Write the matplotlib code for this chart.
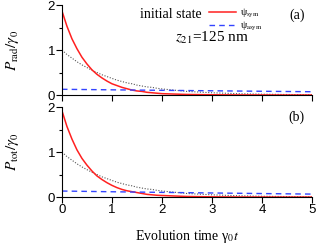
import matplotlib
matplotlib.use("Agg")
import matplotlib.pyplot as plt

# evolution time (gamma_0 t)
t = [0, 0.1, 0.2, 0.3, 0.4, 0.5, 0.6, 0.7, 0.8, 0.9, 1.0, 1.1, 1.2, 1.3, 1.4,
     1.5, 1.6, 1.7, 1.8, 1.9, 2.0, 2.5, 3.0, 3.5, 4.0, 4.5, 5.0]

# (a) radiated power
rad_sym = [1.87, 1.53, 1.25, 1.03, 0.84, 0.69, 0.56, 0.46, 0.38, 0.31, 0.25,
           0.21, 0.17, 0.14, 0.11, 0.09, 0.08, 0.06, 0.05, 0.04, 0.03,
           0.012, 0.005, 0.002, 0.001, 0.0, 0.0]
# (b) total power
tot_sym = [1.92, 1.57, 1.29, 1.05, 0.86, 0.71, 0.58, 0.47, 0.39, 0.32, 0.26,
           0.21, 0.17, 0.14, 0.12, 0.10, 0.08, 0.06, 0.05, 0.04, 0.035,
           0.013, 0.005, 0.002, 0.001, 0.0, 0.0]
# single emitter reference (dotted)
single = [1.0, 0.90, 0.82, 0.74, 0.67, 0.61, 0.55, 0.50, 0.45, 0.41, 0.37,
          0.33, 0.30, 0.27, 0.25, 0.22, 0.20, 0.18, 0.17, 0.15, 0.135,
          0.08, 0.05, 0.03, 0.018, 0.011, 0.007]

t_asym = [0, 1, 2, 3, 4, 5]
rad_asym = [0.127, 0.115, 0.104, 0.094, 0.083, 0.073]
tot_asym = [0.134, 0.118, 0.104, 0.091, 0.078, 0.066]

plt.rcParams["font.family"] = "Liberation Serif"
plt.rcParams["mathtext.fontset"] = "stix"

fig = plt.figure(figsize=(3.16, 2.52), dpi=100)
ax1 = fig.add_axes([0.196, 0.623, 0.791, 0.357])
ax2 = fig.add_axes([0.196, 0.218, 0.791, 0.357])

panels = [(ax1, rad_sym, rad_asym, r"$P_{\rm rad}/\gamma_0$", "(a)"),
          (ax2, tot_sym, tot_asym, r"$P_{\rm tot}/\gamma_0$", "(b)")]

for ax, sym, asym, ylab, tag in panels:
    ax.plot(t, single, color="#555555", ls=(0, (1, 1.5)), lw=0.8)
    ax.plot(t, sym, color="#ff2020", lw=1.1, label=r"ψ$_{\rm sym}$")
    ax.plot(t_asym, asym, color="#3344ff", ls=(0, (4, 3)), lw=1.0,
            label=r"ψ$_{\rm asym}$")
    ax.set_xlim(0, 5)
    ax.set_ylim(0, 2)
    ax.spines["top"].set_visible(False)
    ax.spines["right"].set_visible(False)
    ax.set_xticks([0, 1, 2, 3, 4, 5])
    ax.set_yticks([0, 1, 2])
    ax.set_yticks([0.5, 1.5], minor=True)
    ax.tick_params(direction="out", length=4, width=0.8, pad=1)
    ax.tick_params(which="minor", direction="out", length=2.5, width=0.8)
    for lab in ax.get_xticklabels() + ax.get_yticklabels():
        lab.set_fontfamily("Liberation Sans")
        lab.set_fontsize(9.5)
    ax.set_ylabel(ylab, fontsize=11)
    ax.yaxis.set_label_coords(-0.165, 0.5)
    ax.text(0.94, 0.89, tag, transform=ax.transAxes, ha="center",
            va="center", fontsize=10)

ax1.tick_params(labelbottom=False)

leg = ax1.legend(loc="upper left", bbox_to_anchor=(0.59, 0.98),
                 frameon=False, fontsize=7, handlelength=2.7,
                 handletextpad=0.45, labelspacing=0.0, borderpad=0,
                 borderaxespad=0)
ax1.text(0.312, 0.9, "initial state", transform=ax1.transAxes,
         ha="left", va="center", fontsize=10)
ax1.text(0.6, 0.63, r"$z_{21}$=125 nm", transform=ax1.transAxes,
         ha="center", va="center", fontsize=11)

fig.text(0.592, 0.06, r"Evolution time γ$_0$$t$", ha="center",
         va="center", fontsize=10)

fig.savefig("out.png", dpi=100)
